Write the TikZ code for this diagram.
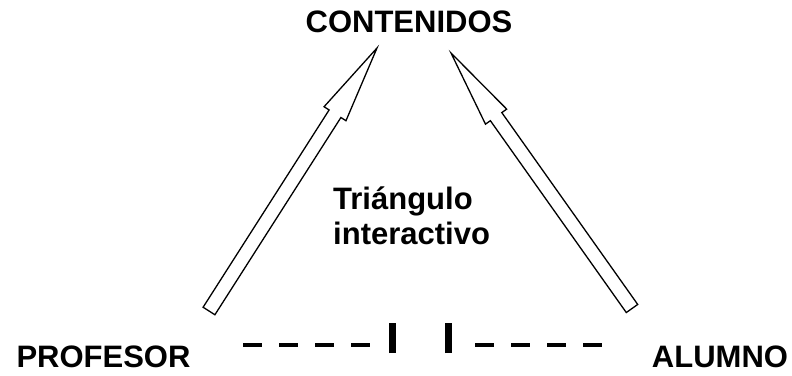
\documentclass[tikz,border=0pt]{standalone}
\usepackage{fontspec}
\setmainfont{Liberation Sans}
\usetikzlibrary{calc}

\tikzset{
	word/.style={font=\fontsize{31}{33}\selectfont\bfseries, inner sep=0pt},
	outline/.style={line width=1.3pt, line join=miter},
	dashbit/.style={line width=4pt},
	barbit/.style={line width=7pt}
}

% hollow arrow from #1 (tail) to #2 (tip)
\newcommand{\hollowarrow}[2]{%
	\coordinate (#2neck) at ($(#2)!78pt!(#1)$);
	\draw[outline] ($(#1)!7pt!90:(#2)$) -- ($(#2neck)!7pt!90:(#2)$) -- ($(#2neck)!13pt!90:(#2)$) -- (#2)
		-- ($(#2neck)!13pt!-90:(#2)$) -- ($(#2neck)!7pt!-90:(#2)$) -- ($(#1)!7pt!-90:(#2)$) -- cycle;}

\begin{document}
\begin{tikzpicture}[x=1pt, y=1pt]
	\useasboundingbox (0,0) rectangle (792,375);
	\node[word, anchor=base] (contenidos) at (409,342) {CONTENIDOS};
	\node[word, anchor=base] (profesor) at (103.5,8) {PROFESOR};
	\node[word, anchor=base] (alumno) at (720,8) {ALUMNO};
	\node[word, anchor=base west, align=left] (triangulo) at (333,130) {Triángulo\\[2pt]interactivo};
	\coordinate (tailL) at (209,64);
	\coordinate (tipL) at (377,327);
	\coordinate (tailR) at (632,66.5);
	\coordinate (tipR) at (451,322);
	\hollowarrow{tailL}{tipL}
	\hollowarrow{tailR}{tipR}
	\foreach \x in {243,279,315,351,475,511,547,583} \draw[dashbit] (\x,30)--++(18.5,0);
	\foreach \x in {392.5,448.5} \draw[barbit] (\x,22)--(\x,52);
\end{tikzpicture}
\end{document}
